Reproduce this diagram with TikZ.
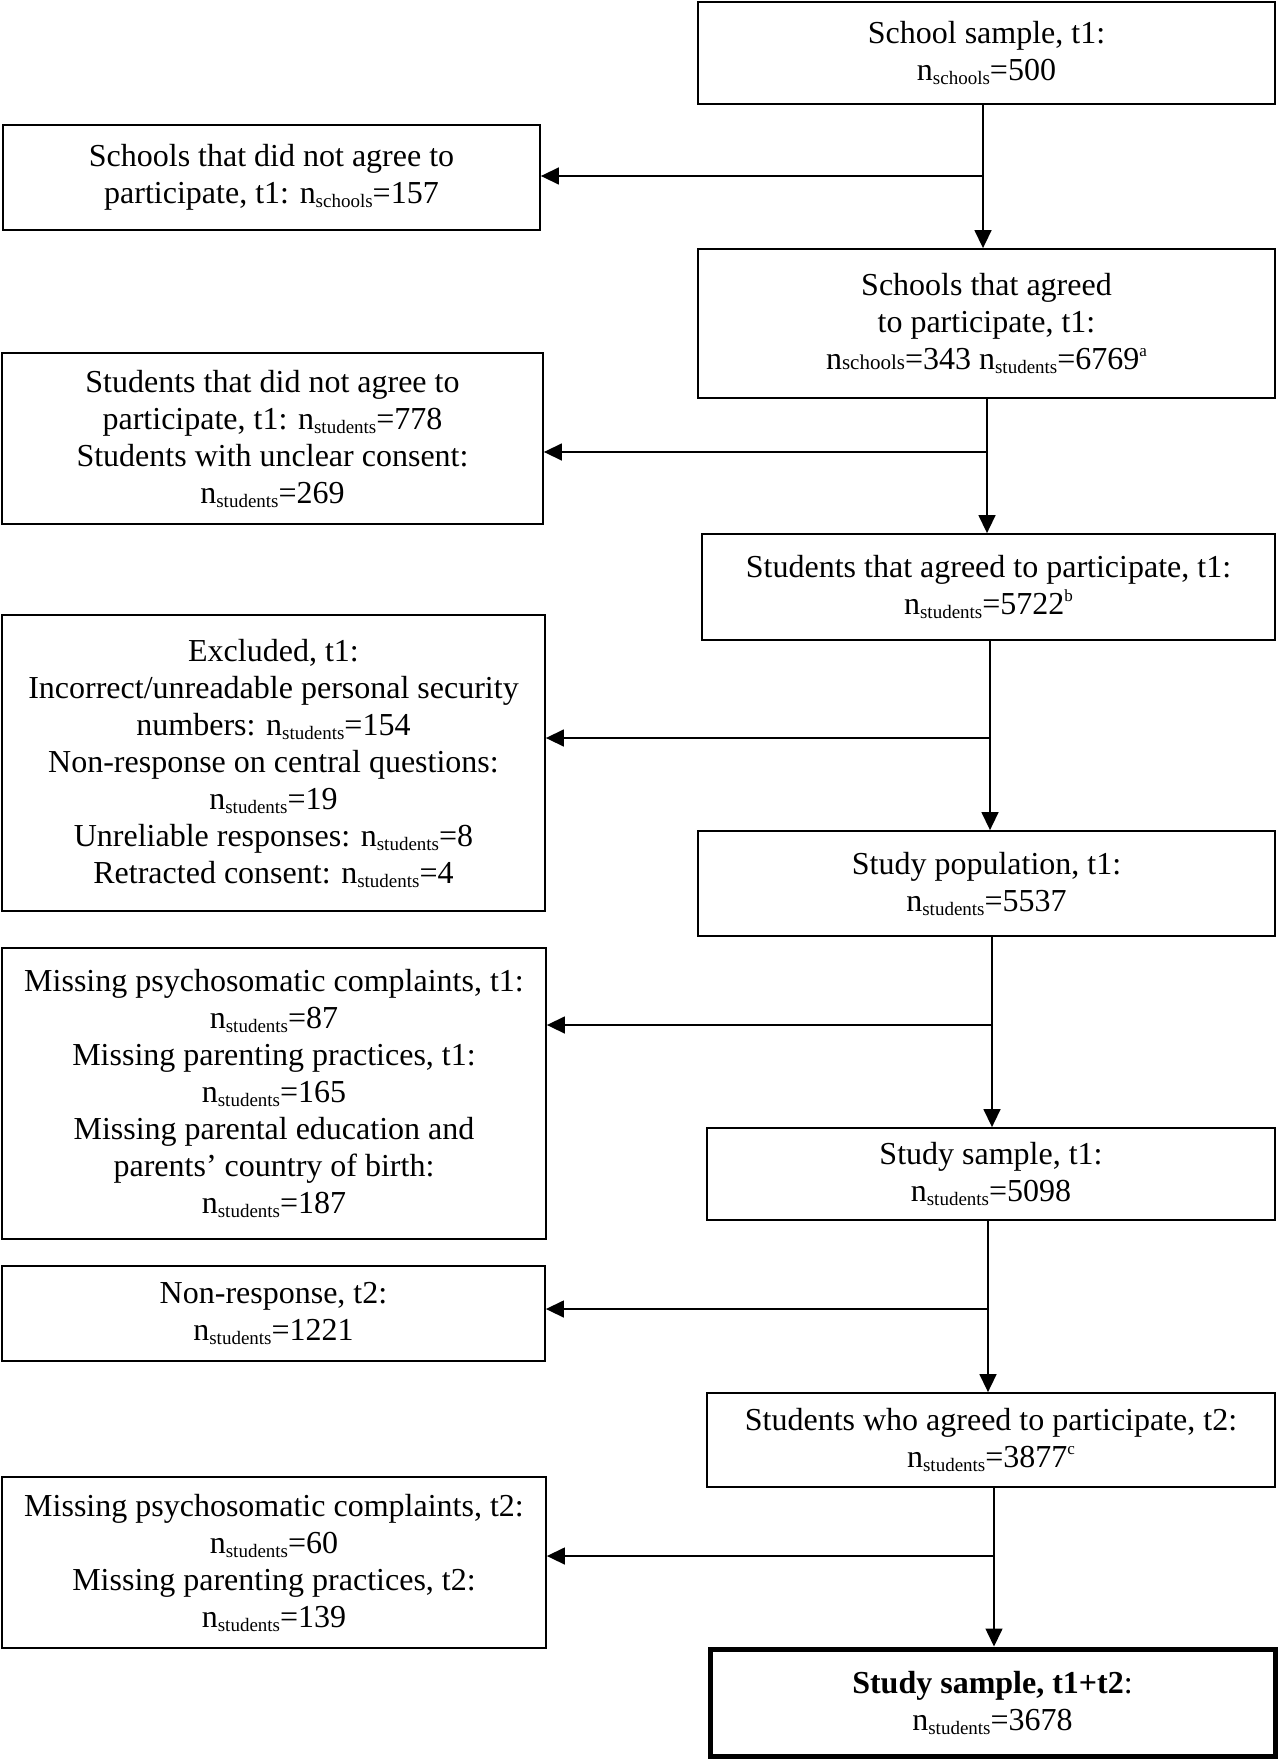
\documentclass[tikz,border=0pt]{standalone}
\usepackage{fontspec}
\setmainfont{Liberation Serif}
\usetikzlibrary{arrows.meta}
\newcommand\nsub[1]{n\raisebox{-4pt}{\fontsize{19}{19}\selectfont #1}}
\newcommand\nbase[1]{n{\fontsize{21}{21}\selectfont #1}}
\newcommand\supr[1]{\raisebox{13pt}{\fontsize{17}{17}\selectfont #1}}
\tikzset{
  box/.style={draw, line width=1.8pt, inner sep=0pt, align=center,
    font=\fontsize{32}{37}\selectfont},
  arr/.style={line width=1.5pt, -{Triangle[length=18pt,width=17pt]}},
  ln/.style={line width=1.5pt}
}
\begin{document}
\begin{tikzpicture}[x=1pt,y=-1pt]
\useasboundingbox (0,0) rectangle (1278,1760);
% right column
\node[box, minimum width=577pt, minimum height=102pt] (A) at (986.5,53)
  {School sample, t1:\\\nsub{schools}=500};
\node[box, minimum width=577pt, minimum height=149pt] (B) at (986.5,323.5)
  {Schools that agreed\\to participate, t1:\\\nbase{schools}=343 \nsub{students}=6769\supr{a}};
\node[box, minimum width=573pt, minimum height=106pt] (C) at (988.5,587)
  {Students that agreed to participate, t1:\\\nsub{students}=5722\supr{b}};
\node[box, minimum width=577pt, minimum height=105pt] (D) at (986.5,883.5)
  {Study population, t1:\\\nsub{students}=5537};
\node[box, minimum width=568pt, minimum height=92pt] (E) at (991,1174)
  {Study sample, t1:\\\nsub{students}=5098};
\node[box, minimum width=568pt, minimum height=94pt] (F) at (991,1440)
  {Students who agreed to participate, t2:\\\nsub{students}=3877\supr{c}};
\node[box, line width=5pt, minimum width=565pt, minimum height=107pt] (G) at (992.5,1702.5)
  {\textbf{Study sample, t1+t2}:\\\nsub{students}=3678};
% left column
\node[box, minimum width=537pt, minimum height=105pt] (L1) at (271.5,177.5)
  {Schools that did not agree to\\participate, t1: \nsub{schools}=157};
\node[box, minimum width=541pt, minimum height=171pt] (L2) at (272.5,438.5)
  {Students that did not agree to\\participate, t1: \nsub{students}=778\\Students with unclear consent:\\\nsub{students}=269};
\node[box, minimum width=543pt, minimum height=296pt] (L3) at (273.5,763)
  {Excluded, t1:\\Incorrect/unreadable personal security\\numbers: \nsub{students}=154\\Non-response on central questions:\\\nsub{students}=19\\Unreliable responses: \nsub{students}=8\\Retracted consent: \nsub{students}=4};
\node[box, minimum width=544pt, minimum height=291pt] (L4) at (274,1093.5)
  {Missing psychosomatic complaints, t1:\\\nsub{students}=87\\Missing parenting practices, t1:\\\nsub{students}=165\\Missing parental education and\\parents’ country of birth:\\\nsub{students}=187};
\node[box, minimum width=543pt, minimum height=95pt] (L5) at (273.5,1313.5)
  {Non-response, t2:\\\nsub{students}=1221};
\node[box, minimum width=544pt, minimum height=171pt] (L6) at (274,1562.5)
  {Missing psychosomatic complaints, t2:\\\nsub{students}=60\\Missing parenting practices, t2:\\\nsub{students}=139};
% junctions
\coordinate (j1) at (983,176);
\coordinate (j2) at (987,452);
\coordinate (j3) at (990,738);
\coordinate (j4) at (992,1025);
\coordinate (j5) at (988,1309);
\coordinate (j6) at (994,1556);
% connectors
\draw[arr] (A.south -| j1) -- (B.north -| j1);
\draw[arr] (j1) -- (j1 -| L1.east);
\draw[arr] (B.south -| j2) -- (C.north -| j2);
\draw[arr] (j2) -- (j2 -| L2.east);
\draw[arr] (C.south -| j3) -- (D.north -| j3);
\draw[arr] (j3) -- (j3 -| L3.east);
\draw[arr] (D.south -| j4) -- (E.north -| j4);
\draw[arr] (j4) -- (j4 -| L4.east);
\draw[arr] (E.south -| j5) -- (F.north -| j5);
\draw[arr] (j5) -- (j5 -| L5.east);
\draw[arr] (F.south -| j6) -- (G.north -| j6);
\draw[arr] (j6) -- (j6 -| L6.east);
\end{tikzpicture}
\end{document}
